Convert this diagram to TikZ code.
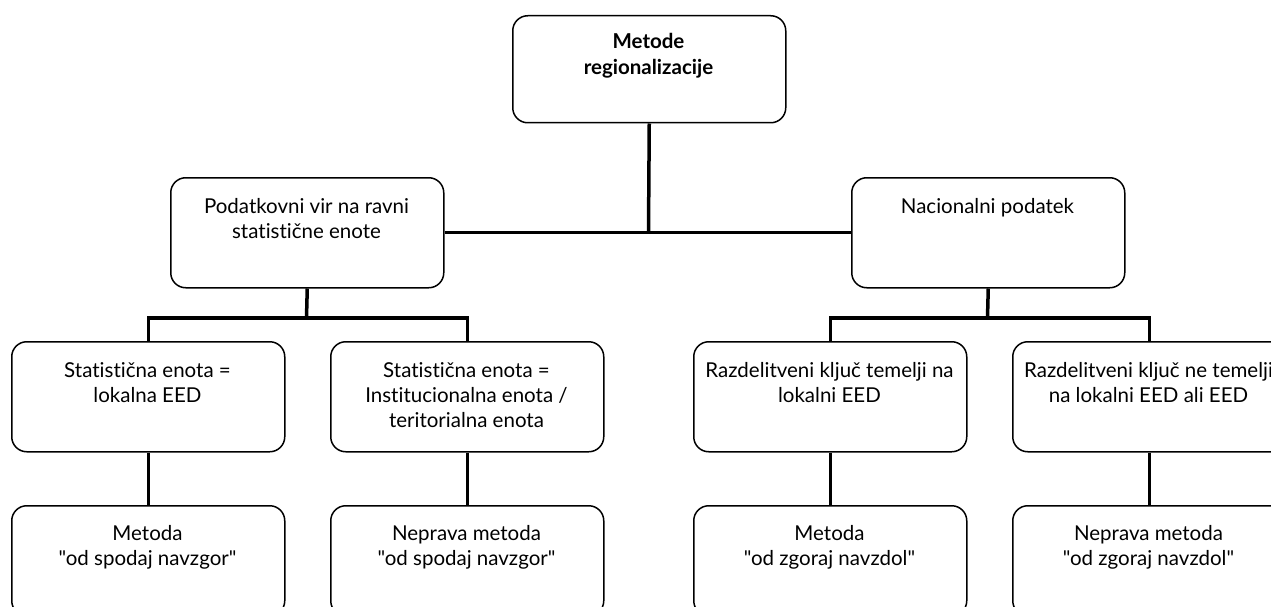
\documentclass[tikz,border=0pt]{standalone}
\usepackage{fontspec}
\setmainfont{Lato}[Ligatures={TeXOff,NoCommon}]
\begin{document}
\begin{tikzpicture}[x=1pt,y=-1pt,
  box/.style={draw, line width=1.5pt, rounded corners=15pt, minimum width=273pt, minimum height=110pt, inner sep=0pt, anchor=north west},
  txt/.style={anchor=north, align=center, inner sep=0pt, font=\fontsize{20.5}{25}\selectfont},
  conn/.style={line width=3.5pt}]
\useasboundingbox (0,0) rectangle (1271,607);
\clip (0,0) rectangle (1271,607);
% boxes
\node[box, minimum height=107pt] (top) at (512,15) {};
\node[box] (pod) at (170,177) {};
\node[box] (nac) at (851,177) {};
\node[box] (b1) at (11,341) {};
\node[box] (b2) at (330,341) {};
\node[box] (b3) at (693,341) {};
\node[box] (b4) at (1012,341) {};
\node[box] (c1) at (11,505) {};
\node[box] (c2) at (330,505) {};
\node[box] (c3) at (693,505) {};
\node[box] (c4) at (1012,505) {};
% texts
\node[txt, font=\fontsize{20.5}{26}\selectfont\bfseries] (topt) at (648.5,33) {Metode\\regionalizacije};
\node[txt] (podt) at (306.5,198) {Podatkovni vir na ravni\\statistične enote};
\node[txt] (nact) at (987.5,198) {Nacionalni podatek};
\node[txt] (b1t) at (147.5,362) {Statistična enota =\\lokalna EED};
\node[txt] (b2t) at (466.5,362) {Statistična enota =\\Institucionalna enota /\\teritorialna enota};
\node[txt] (b3t) at (829.5,362) {Razdelitveni ključ temelji na\\lokalni EED};
\node[txt] (b4t) at (1148.5,362) {Razdelitveni ključ ne temelji\\na lokalni EED ali EED};
\node[txt] (c1t) at (147.5,525) {Metoda\\"od spodaj navzgor"};
\node[txt] (c2t) at (466.5,525) {Neprava metoda\\"od spodaj navzgor"};
\node[txt] (c3t) at (829.5,525) {Metoda\\"od zgoraj navzdol"};
\node[txt] (c4t) at (1148.5,525) {Neprava metoda\\"od zgoraj navzdol"};
% connectors
\coordinate (j1) at (648.5,232);
\coordinate (j2) at (306.5,318);
\coordinate (j3) at (987.5,318);
\draw[conn] (top.south) -- (j1);
\draw[conn, line width=3pt] (pod.east) -- (nac.west);
\draw[conn] (pod.south) -- (j2);
\draw[conn] (b1.north) |- (j2) -| (b2.north);
\draw[conn] (nac.south) -- (j3);
\draw[conn] (b3.north) |- (j3) -| (b4.north);
\draw[conn] (b1.south) -- (c1.north);
\draw[conn] (b2.south) -- (c2.north);
\draw[conn] (b3.south) -- (c3.north);
\draw[conn] (b4.south) -- (c4.north);
\end{tikzpicture}
\end{document}
